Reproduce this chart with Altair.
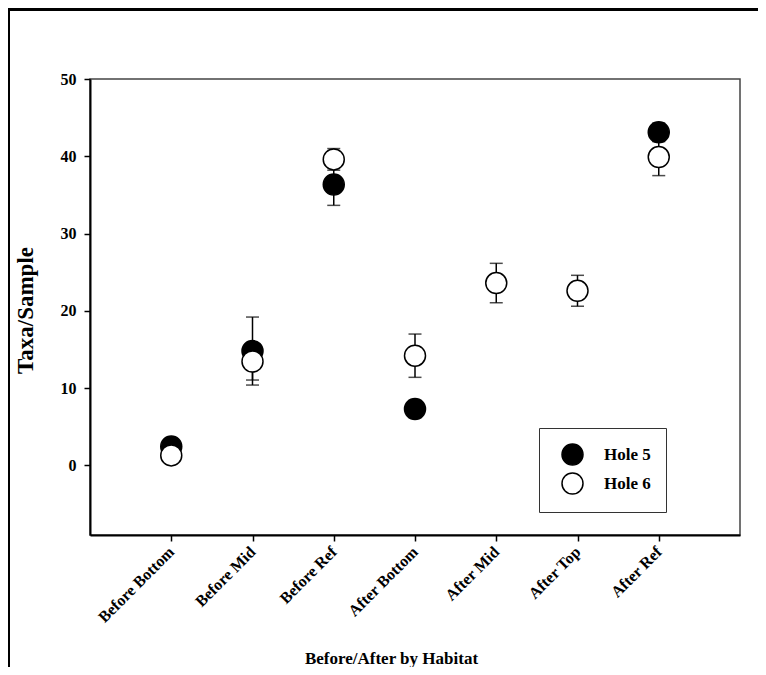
import altair as alt
import pandas as pd

cats = ["Before Bottom", "Before Mid", "Before Ref", "After Bottom", "After Mid", "After Top", "After Ref"]
hole5_vals = [2.45, 14.8, 36.35, 7.3, None, None, 43.1]
hole5_err = [0.8, 4.4, 2.7, 1.1, None, None, 1.2]
hole6_vals = [1.3, 13.45, 39.6, 14.2, 23.6, 22.6, 39.9]
hole6_err = [0.8, 2.4, 1.4, 2.8, 2.55, 2.0, 2.4]
holes = ["Hole 5", "Hole 6"]
y_ticks = [0, 10, 20, 30, 40, 50]

rows = []
for name, vals, errs in [("Hole 5", hole5_vals, hole5_err), ("Hole 6", hole6_vals, hole6_err)]:
    for c, v, e in zip(cats, vals, errs):
        if v is not None:
            rows.append({"cat": c, "hole": name, "value": v, "err": e})
df = pd.DataFrame(rows)

FONT = "Liberation Serif"

x_enc = alt.X("cat:N", sort=cats, scale=alt.Scale(type="point", padding=1),
              axis=alt.Axis(title="Before/After by Habitat", labelAngle=315, labelAlign="right",
                            labelBaseline="middle", labelPadding=8, labelFontSize=16, tickSize=6,
                            titleFontSize=17, titleBaseline="alphabetic", titleY=128,
                            titleX=301, titleAlign="center"))
y_scale = alt.Scale(domain=[-9, 50], nice=False, zero=False)
y_axis = alt.Axis(title="Taxa/Sample", values=y_ticks, grid=False, tickSize=6, labelPadding=8,
                  labelFontSize=16, titleFontSize=23, titleX=-53, titleY=231,
                  titleBaseline="bottom")

base = alt.Chart(df).transform_calculate(lo="datum.value - datum.err", hi="datum.value + datum.err")

layers = []
for h in holes:
    b = base.transform_filter(alt.datum.hole == h)
    rule = b.mark_rule(color="black", strokeWidth=1.5).encode(
        x=x_enc, y=alt.Y("lo:Q", scale=y_scale, axis=y_axis), y2="hi:Q")
    cap_lo = b.mark_tick(color="black", size=13, thickness=1.5).encode(
        x=x_enc, y=alt.Y("lo:Q", scale=y_scale, axis=y_axis))
    cap_hi = b.mark_tick(color="black", size=13, thickness=1.5).encode(
        x=x_enc, y=alt.Y("hi:Q", scale=y_scale, axis=y_axis))
    pts = b.mark_point(filled=True, shape="circle", size=441, stroke="black",
                       strokeWidth=1.5, opacity=1).encode(
        x=x_enc, y=alt.Y("value:Q", scale=y_scale, axis=y_axis),
        fill=alt.Fill("hole:N", scale=alt.Scale(domain=holes, range=["black", "white"]),
                      legend=alt.Legend(title=None, orient="none", legendX=449, legendY=349,
                                        strokeColor="#333", padding=15, rowPadding=2,
                                        symbolOffset=7, labelOffset=20, labelFontSize=17,
                                        symbolSize=441, symbolStrokeColor="black",
                                        symbolStrokeWidth=1.5, symbolType="circle",
                                        fillColor="white")))
    layers += [rule, cap_lo, cap_hi, pts]

frame_left = alt.Chart(df).mark_rule(color="black", strokeWidth=3).encode(
    x=alt.value(-81.5), y=alt.value(-70), y2=alt.value(700))
frame_top = alt.Chart(df).mark_rule(color="black", strokeWidth=3).encode(
    y=alt.value(-70), x=alt.value(-81.5), x2=alt.value(700))

chart = alt.layer(*layers, frame_left, frame_top).properties(
    width=650, height=456,
    autosize=alt.AutoSizeParams(type="none"),
    padding={"left": 82, "top": 71, "right": 18, "bottom": 132},
).configure(font=FONT).configure_axis(
    labelFont=FONT, titleFont=FONT, labelFontWeight="bold", titleFontWeight="bold",
    labelColor="black", titleColor="black", domainColor="black", domainWidth=2,
    tickColor="black", tickWidth=1.5,
).configure_legend(labelFont=FONT, labelFontWeight="bold", labelColor="black").configure_view(
    stroke="#444", strokeWidth=1.5)

chart.save("out.html", embed_options={"renderer": "svg", "actions": False})
